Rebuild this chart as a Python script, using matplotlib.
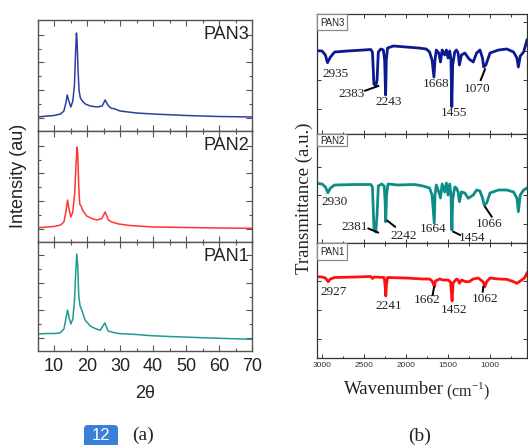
import matplotlib
matplotlib.use("Agg")
import matplotlib.pyplot as plt
from matplotlib.patches import Rectangle, FancyBboxPatch
from matplotlib.ticker import MultipleLocator, FixedLocator

W, H = 528, 445

# ---------------- data: XRD (panel a) ----------------
xrd_labels = ["PAN3", "PAN2", "PAN1"]
tt_pan3 = [5, 8, 10, 12, 13, 13.6, 14.0, 14.5, 15.1, 15.7, 16.2, 16.5, 16.8, 17.0, 17.3, 17.6,
           18.0, 18.6, 19.5, 21, 23, 24.6, 25.5, 26.3, 27.2, 28.5, 30, 35, 40, 50, 60, 70]
int_pan3 = [14, 15, 15.5, 17, 20, 28, 36, 30, 24, 30, 46, 75, 98, 90, 60, 40,
            33, 30, 27, 25, 24, 25, 31, 26, 23, 22, 20, 18, 17, 15.5, 14.5, 14]
tt_pan2 = [5, 8, 10, 12, 13, 13.6, 14.1, 14.6, 15.1, 15.7, 16.3, 16.7, 17.0, 17.2, 17.5, 17.8,
           18.2, 18.8, 19.9, 21.5, 23.0, 24.5, 25.5, 26.5, 27.5, 29.6, 33, 40, 50, 60, 70]
int_pan2 = [14.3, 15, 15.5, 17, 20, 30, 42, 32, 25, 30, 50, 80, 95, 88, 55, 38,
            36, 31, 26, 23.5, 22, 23.5, 30, 22, 20, 18, 16.5, 15, 14.5, 14, 13.7]
tt_pan1 = [5, 8, 10, 11.8, 13, 13.6, 14.1, 14.6, 15.1, 15.7, 16.2, 16.6, 16.9, 17.2, 17.5, 17.9,
           18.3, 19.4, 21, 22.5, 24.0, 25.4, 26.4, 28, 29.9, 35, 39, 45, 54, 62, 70]
int_pan1 = [17, 17.5, 17.5, 18, 22, 32, 41, 33, 27, 32, 50, 80, 97, 85, 55, 45,
            42, 31, 25, 22.4, 20.7, 28, 20, 18.5, 17.4, 16.5, 15.4, 14.5, 13.4, 12.5, 11.7]
xrd_ticks = [10, 20, 30, 40, 50, 60, 70]

# ---------------- data: FTIR (panel b) ----------------
wn_pan3 = [3060, 3000, 2960, 2935, 2900, 2850, 2700, 2500, 2420, 2400, 2390, 2383, 2360, 2345, 2330,
           2300, 2270, 2255, 2243, 2235, 2220, 2150, 2000, 1850, 1760, 1720, 1690, 1668, 1655, 1640,
           1610, 1590, 1570, 1540, 1520, 1500, 1480, 1465, 1455, 1445, 1420, 1400, 1380, 1365, 1340,
           1300, 1250, 1200, 1160, 1120, 1090, 1075, 1050, 1000, 900, 800, 720, 680, 663, 640, 600,
           570, 560]
tr_pan3 = [83.3, 83, 79, 71.3, 77, 82, 83, 84, 84.5, 82, 64, 50, 48, 54, 82,
           85, 84, 74, 39, 74, 86, 88, 87, 86, 85, 82, 74, 57, 74, 84,
           81, 72, 84, 79, 84, 76, 83, 74, 27.3, 69, 82, 84, 81, 69, 79,
           81, 75, 72, 81, 84, 76, 67, 69, 81, 84, 85, 82, 76, 67, 78, 82,
           91, 94]
wn_pan2 = [3060, 3000, 2960, 2930, 2900, 2850, 2600, 2420, 2400, 2390, 2381, 2360, 2345, 2330,
           2290, 2260, 2250, 2242, 2232, 2215, 2100, 1900, 1800, 1760, 1720, 1690, 1664, 1655, 1640,
           1610, 1590, 1570, 1540, 1520, 1500, 1480, 1465, 1454, 1445, 1420, 1400, 1380, 1365, 1340,
           1300, 1260, 1200, 1160, 1120, 1090, 1070, 1040, 1000, 900, 800, 720, 680, 663, 640, 600,
           560]
tr_pan2 = [59.7, 59, 56, 50.3, 55, 58, 58.5, 58.5, 56, 33, 13, 11, 28, 57,
           59, 57, 43, 21.3, 48, 59, 58, 58.5, 57, 56, 55, 48, 19.7, 48, 58,
           51, 45, 59, 51, 60, 48, 59, 48, 13, 43, 56, 55, 51, 41.3, 51,
           50, 44.7, 48, 53, 52, 45, 38, 40, 50, 53, 53, 51, 45, 31.3, 48, 53,
           55]
wn_pan1 = [3060, 3000, 2960, 2927, 2900, 2850, 2600, 2420, 2400, 2380, 2260, 2250, 2241, 2232,
           2220, 2000, 1800, 1720, 1690, 1662, 1650, 1600, 1560, 1500, 1470, 1452, 1440, 1400, 1380,
           1365, 1340, 1290, 1250, 1200, 1140, 1080, 1062, 1040, 1000, 900, 800, 720, 680, 640, 590,
           560]
tr_pan1 = [81.3, 81, 80, 76.3, 79, 80.5, 81, 81.5, 79.5, 81, 80.5, 73, 62, 74,
           80.5, 80, 79, 79, 77, 71.3, 77, 79, 78, 78, 76, 57, 75, 79, 78,
           74.7, 78, 76.3, 76.3, 79, 80, 76, 71.3, 76.3, 80, 79, 78.7, 76.3, 74.7, 77, 80,
           85]
ftir_ticks = [3000, 2500, 2000, 1500, 1000]
ftir_tick_labels = ["3000", "2500", "2000", "1500", "1000"]

# peak annotations: (label, text_wn, text_y, line or None)
ann_pan3 = [("2935", 2845, 60, None),
            ("2383", 2646, 40, (2488, 43.3, 2330, 48)),
            ("2243", 2202, 32.3, None),
            ("1668", 1646, 50, None),
            ("1455", 1425, 20.7, None),
            ("1070", 1151, 44.7, (1111, 54, 1060, 64.7))]
ann_pan2 = [("2930", 2845, 41.3, None),
            ("2381", 2607, 16.3, (2448, 14.5, 2333, 10.5)),
            ("2242", 2032, 7, (2222, 22.3, 2131, 16.3)),
            ("1664", 1674, 13.7, None),
            ("1454", 1218, 4.7, (1437, 11.3, 1357, 8)),
            ("1066", 1008, 18.7, (1060, 36.3, 980, 26.3))]
ann_pan1 = [("2927", 2865, 66.3, None),
            ("2241", 2202, 52, None),
            ("1662", 1746, 58, (1667, 70.7, 1683, 63)),
            ("1452", 1429, 48, None),
            ("1062", 1060, 58.7, (1080, 71.3, 1087, 66.3))]

# ---------------- figure ----------------
fig = plt.figure(figsize=(W / 100, H / 100), dpi=100)


def add_ax(x0, y0, x1, y1):
    return fig.add_axes([x0 / W, 1 - y1 / H, (x1 - x0) / W, (y1 - y0) / H])


def ftext(px, py, s, **kw):
    fig.text(px / W, 1 - py / H, s, **kw)


SANS = "Liberation Sans"
SERIF = "Liberation Serif"

# ---------- panel (a) ----------
xl0, xl1 = 37.5, 252
edges_a = [20, 131, 242, 351]
xrd_series = [(tt_pan3, int_pan3, "#2d3f9e"), (tt_pan2, int_pan2, "#ff3535"), (tt_pan1, int_pan1, "#1e9a90")]
for k in range(3):
    ax = add_ax(xl0, edges_a[k], xl1, edges_a[k + 1])
    t, v, c = xrd_series[k]
    ax.plot(t, v, color=c, lw=1.1)
    hgt = edges_a[k + 1] - edges_a[k]
    ax.set_xlim(5, 70)
    ax.set_ylim(0, hgt)
    ax.xaxis.set_major_locator(FixedLocator(xrd_ticks))
    ax.xaxis.set_minor_locator(MultipleLocator(5))
    ax.yaxis.set_major_locator(FixedLocator([13, 41, 68.5, 96]))
    ax.yaxis.set_minor_locator(FixedLocator([27, 54.5, 82]))
    ax.tick_params(which="both", direction="in", top=True, right=True, color="#555555", width=0.8)
    ax.tick_params(which="major", length=4)
    ax.tick_params(which="minor", length=2.5)
    ax.set_yticklabels([])
    for sp in ax.spines.values():
        sp.set_color("#555555")
        sp.set_linewidth(1.0)
    if k < 2:
        ax.set_xticklabels([])
    else:
        ax.set_xticklabels([str(x) for x in xrd_ticks], fontsize=13, family=SANS, color="#222222")
        ax.tick_params(axis="x", pad=5)
    ax.text(0.985, 1 - 14.5 / hgt, xrd_labels[k], transform=ax.transAxes, ha="right", va="center",
            fontsize=13, family=SANS, color="#222222")

ftext(145, 393, "2θ", ha="center", va="center", fontsize=13, family=SANS, color="#222222")
ftext(18.5, 176, "Intensity (au)", ha="center", va="center", rotation=90, fontsize=13,
      family=SANS, color="#222222")

# ---------- panel (b) ----------
xr0, xr1 = 317, 527
edges_b = [14, 134, 243, 358]
ftir_series = [(wn_pan3, tr_pan3, "#0b1a8e", ann_pan3), (wn_pan2, tr_pan2, "#0e8c88", ann_pan2),
               (wn_pan1, tr_pan1, "#ff1010", ann_pan1)]
ytick_sets = [[25, 54, 83, 112], [19.5, 48, 76.5, 105], [19, 48, 77, 106]]
for k in range(3):
    ax = add_ax(xr0, edges_b[k], xr1, edges_b[k + 1])
    w, tr, c, anns = ftir_series[k]
    ax.plot(w, tr, color=c, lw=2.0, solid_joinstyle="round")
    hgt = edges_b[k + 1] - edges_b[k]
    ax.set_xlim(3060, 560)
    ax.set_ylim(0, hgt)
    ax.xaxis.set_major_locator(FixedLocator(ftir_ticks))
    ax.xaxis.set_minor_locator(FixedLocator([2750, 2250, 1750, 1250, 750]))
    ax.yaxis.set_major_locator(FixedLocator(ytick_sets[k]))
    ax.tick_params(which="both", direction="in", top=True, right=True, color="#333333", width=0.7)
    ax.tick_params(which="major", length=3)
    ax.tick_params(which="minor", length=1.8)
    ax.set_yticklabels([])
    for sp in ax.spines.values():
        sp.set_color("#333333")
        sp.set_linewidth(0.9)
    if k < 2:
        ax.set_xticklabels([])
    else:
        ax.set_xticklabels(ftir_tick_labels, fontsize=6, family=SANS, color="#333333")
        ax.tick_params(axis="x", pad=3)
    for lab, tx, ty, ln in anns:
        ax.text(tx, ty, lab, ha="center", va="center", fontsize=9.5, family=SERIF, color="#222222")
        if ln is not None:
            ax.plot([ln[0], ln[2]], [ln[1], ln[3]], color="black", lw=1.4)

# PAN boxes on panel (b)
boxes = [("PAN3", 14, 30), ("PAN2", 134, 146), ("PAN1", 243, 260)]
for lab, y0, y1 in boxes:
    fig.add_artist(Rectangle((xr0 / W, 1 - y1 / H), 30 / W, (y1 - y0) / H, transform=fig.transFigure,
                             facecolor="white", edgecolor="#8a8a8a", lw=0.9, zorder=5))
    ftext(332, (y0 + y1) / 2 + 0.5, lab, ha="center", va="center", fontsize=7, family=SANS,
          color="#222222", zorder=6)

ftext(444, 390, "Wavenumber", ha="right", va="center", fontsize=13.5, family=SERIF, color="#222222")
ftext(446, 391, "(cm$^{\\mathregular{-1}}$)", ha="left", va="center", fontsize=11.5, family=SERIF,
      color="#222222")
ftext(304, 198, "Transmittance (a.u.)", ha="center", va="center", rotation=90, fontsize=13.5,
      family=SERIF, color="#222222")

# captions
ftext(143, 435, "(a)", ha="center", va="center", fontsize=14, family=SERIF, color="#222222")
ftext(420, 436, "(b)", ha="center", va="center", fontsize=14, family=SERIF, color="#222222")
fig.add_artist(FancyBboxPatch((84 / W, 1 - 452 / H), 34 / W, 27 / H, transform=fig.transFigure,
                              boxstyle="round,pad=0,rounding_size=0.008", facecolor="#3a7fd8",
                              edgecolor="none", clip_on=False))
ftext(101, 436, "12", ha="center", va="center", fontsize=12, family=SANS, color="white")

fig.savefig("out.png", dpi=100)
